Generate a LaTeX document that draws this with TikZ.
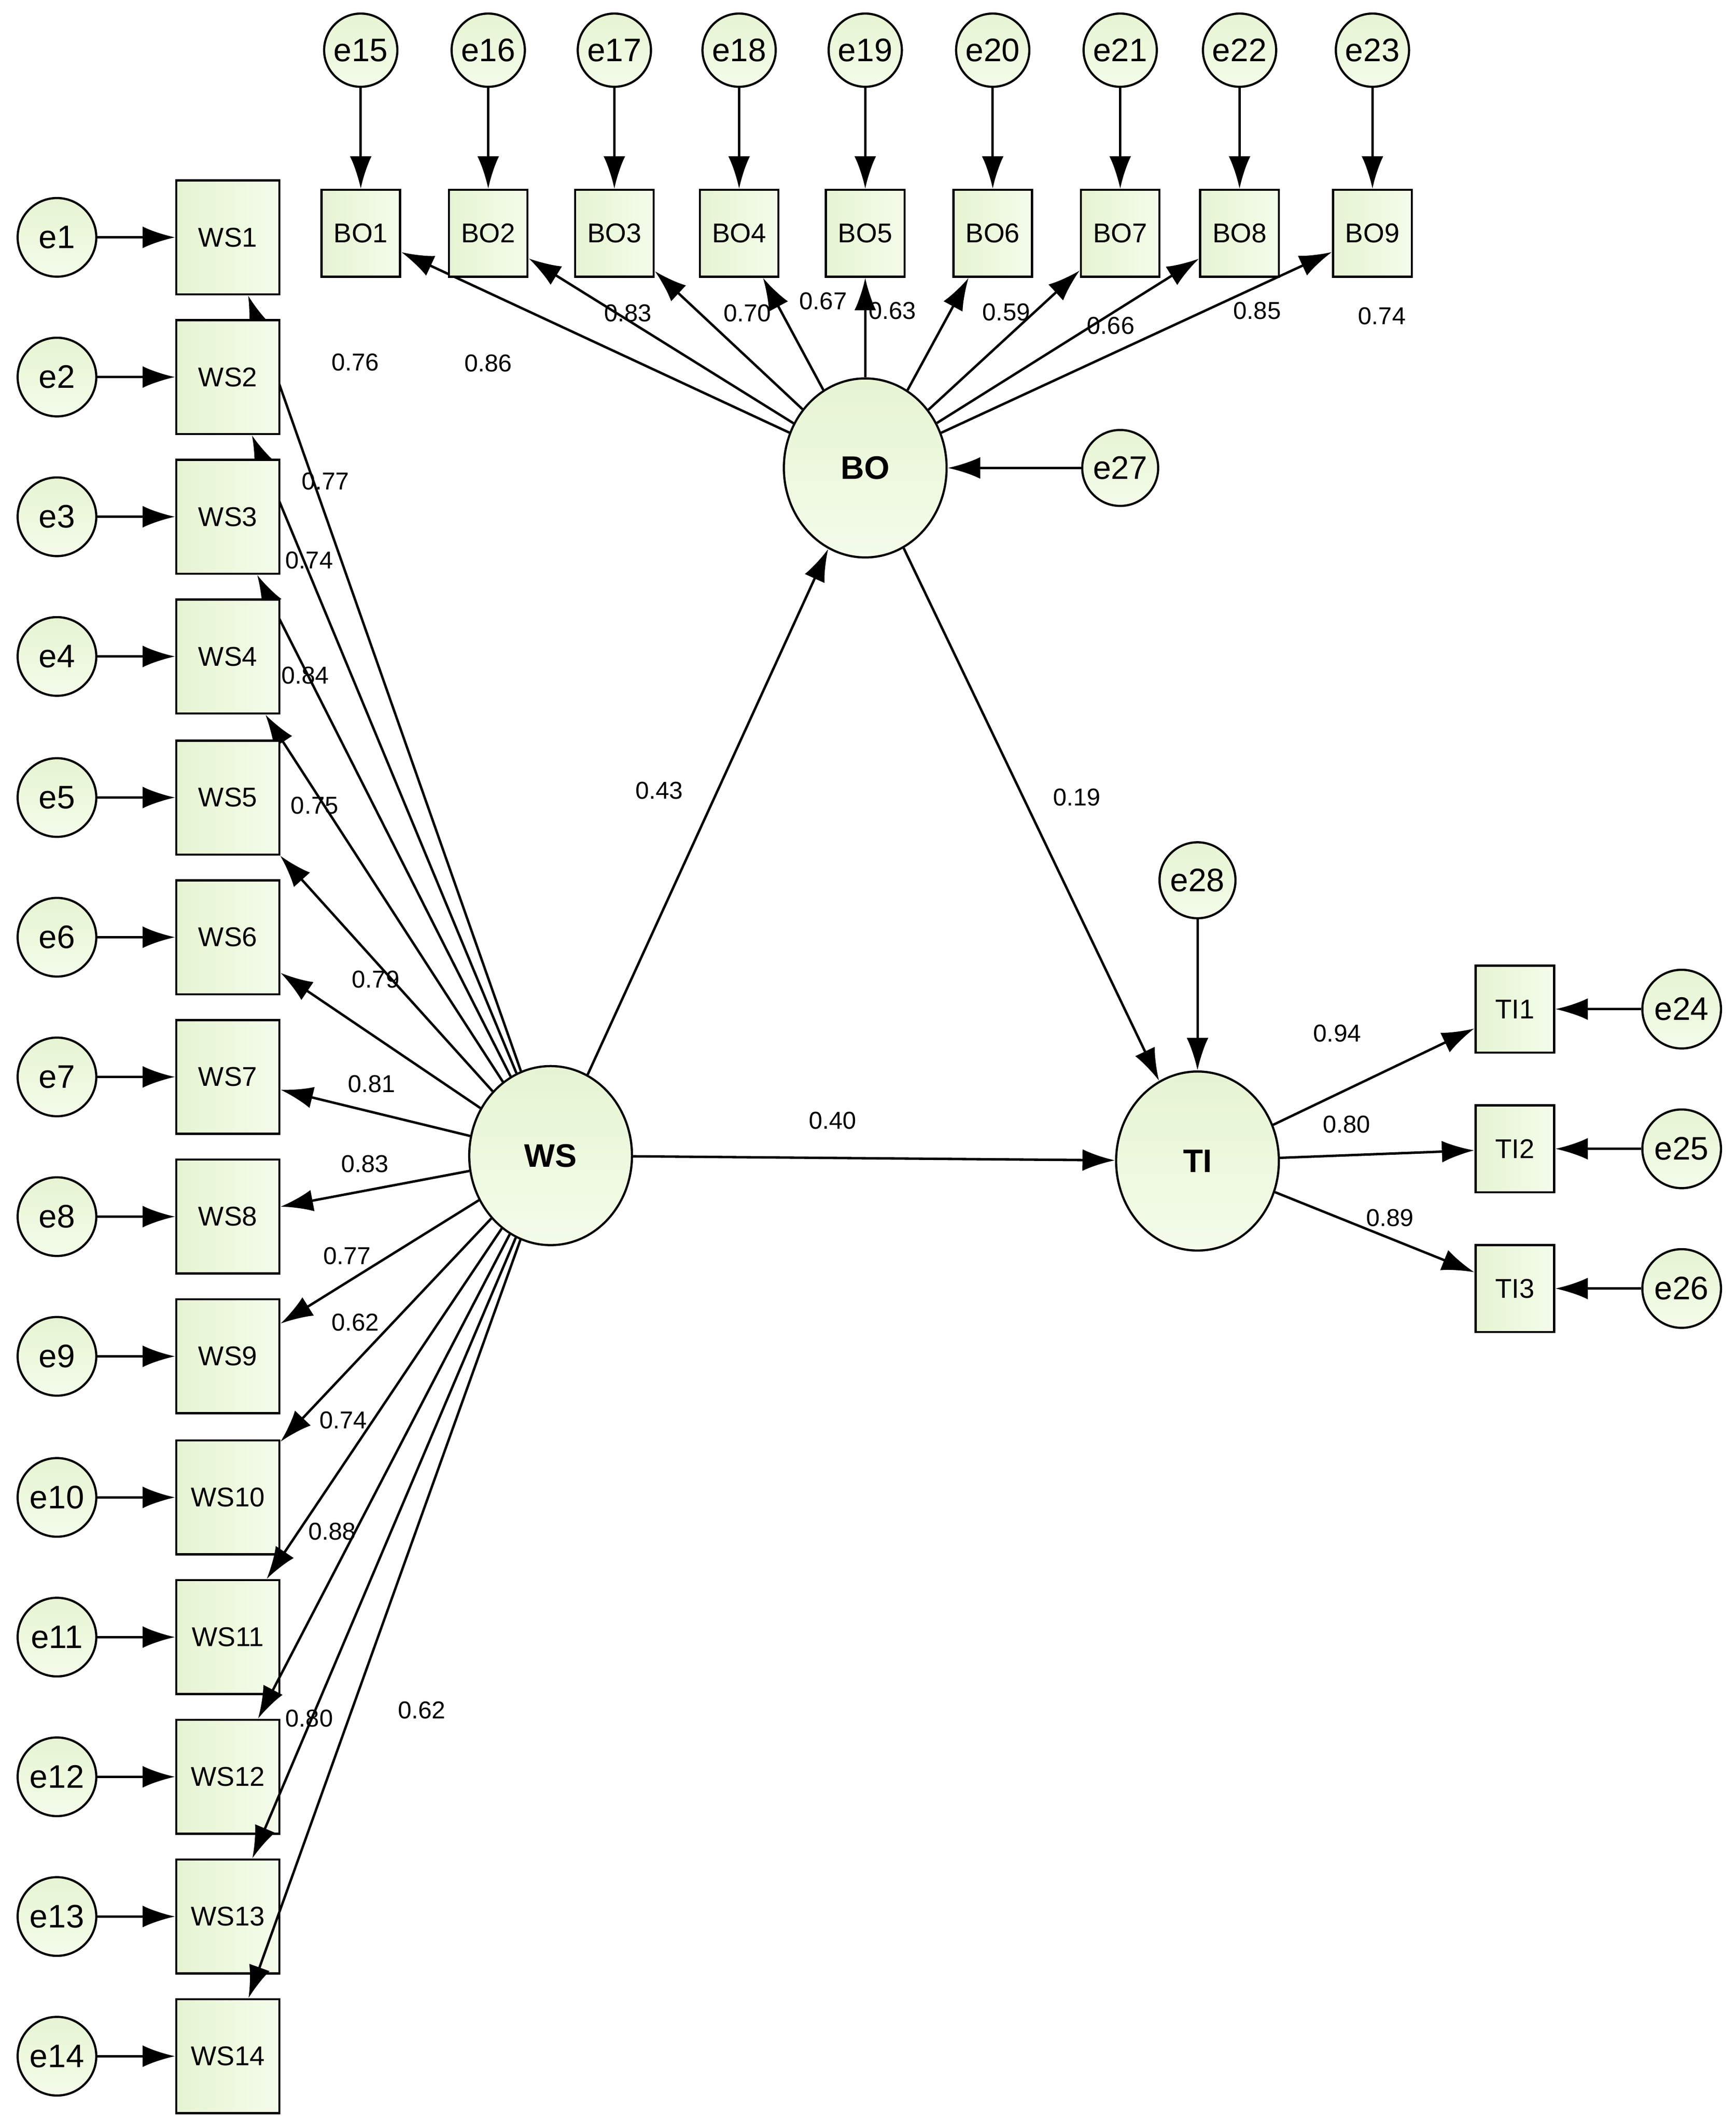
\documentclass[tikz,border=0pt]{standalone}
\usepackage{fontspec}
\setmainfont{Liberation Sans}
\usetikzlibrary{arrows.meta,shapes.geometric}
\definecolor{nf}{HTML}{E6F4D2}
\definecolor{nf2}{HTML}{F4FCEA}
\begin{document}
\begin{tikzpicture}[x=1pt,y=-1pt,
 err/.style={circle,draw,line width=1.6pt,top color=nf,bottom color=nf2,minimum size=58pt,inner sep=0pt,font=\fontsize{24}{24}\selectfont},
 ws/.style={rectangle,draw,line width=1.6pt,left color=nf,right color=nf2,minimum width=76pt,minimum height=84pt,inner sep=0pt,font=\fontsize{20}{20}\selectfont},
 sb/.style={rectangle,draw,line width=1.6pt,left color=nf,right color=nf2,minimum width=58pt,minimum height=64pt,inner sep=0pt,font=\fontsize{20}{20}\selectfont},
 lat/.style={ellipse,draw,line width=1.6pt,top color=nf,bottom color=nf2,minimum width=120pt,minimum height=132pt,inner sep=0pt,font=\bfseries\fontsize{24}{24}\selectfont},
 arr/.style={draw,line width=1.8pt,-{Latex[length=24pt,width=16pt]}},
 lb/.style={font=\fontsize{18}{18}\selectfont,inner sep=0pt}]
\useasboundingbox (0,0) rectangle (1280,1566);
\node[lat] (WS) at (406,852) {WS};
\node[lat] (BO) at (638,345) {BO};
\node[lat] (TI) at (883,856) {TI};
\foreach \i/\y in {1/175,2/278,3/381,4/484,5/588,6/691,7/794,8/897,9/1000,10/1104,11/1207,12/1310,13/1413,14/1516}{
 \node[err] (e\i) at (42,\y) {e\i};
 \node[ws] (WS\i) at (168,\y) {WS\i};
 \draw[arr] (e\i) -- (WS\i);
 \draw[arr] (WS) -- (WS\i);
}
\foreach \i/\x [evaluate=\i as \e using int(\i+14)] in {1/266,2/360,3/453,4/545,5/638,6/732,7/826,8/914,9/1012}{
 \node[err,minimum size=54pt] (e\e) at (\x,37) {e\e};
 \node[sb] (BO\i) at (\x,172) {BO\i};
 \draw[arr] (e\e) -- (BO\i);
 \draw[arr] (BO) -- (BO\i);
}
\foreach \i/\y [evaluate=\i as \e using int(\i+23)] in {1/744,2/847,3/950}{
 \node[err] (e\e) at (1240,\y) {e\e};
 \node[sb] (TI\i) at (1117,\y) {TI\i};
 \draw[arr] (e\e) -- (TI\i);
 \draw[arr] (TI) -- (TI\i);
}
\node[err,minimum size=56pt] (e27) at (826,345) {e27};
\node[err,minimum size=56pt] (e28) at (883,649) {e28};
\draw[arr] (e27) -- (BO);
\draw[arr] (e28) -- (TI);
\draw[arr] (WS) -- (BO);
\draw[arr] (BO) -- (TI);
\draw[arr] (WS) -- (TI);
\foreach \t/\x/\y in {0.76/262/267,0.77/240/355,0.74/228/413,0.84/225/498,0.75/232/594,0.79/277/722,0.81/274/799,0.83/269/858,0.77/256/926,0.62/262/975,0.74/253/1047,0.88/245/1129,0.80/228/1267,0.62/311/1261,
 0.86/360/268,0.83/463/231,0.70/551/231,0.67/607/222,0.63/658/229,0.59/742/230,0.66/819/240,0.85/927/229,0.74/1019/233,
 0.43/486/583,0.19/794/588,0.40/614/826,0.94/986/762,0.80/993/829,0.89/1025/898}
 \node[lb] at (\x,\y) {\t};
\end{tikzpicture}
\end{document}
